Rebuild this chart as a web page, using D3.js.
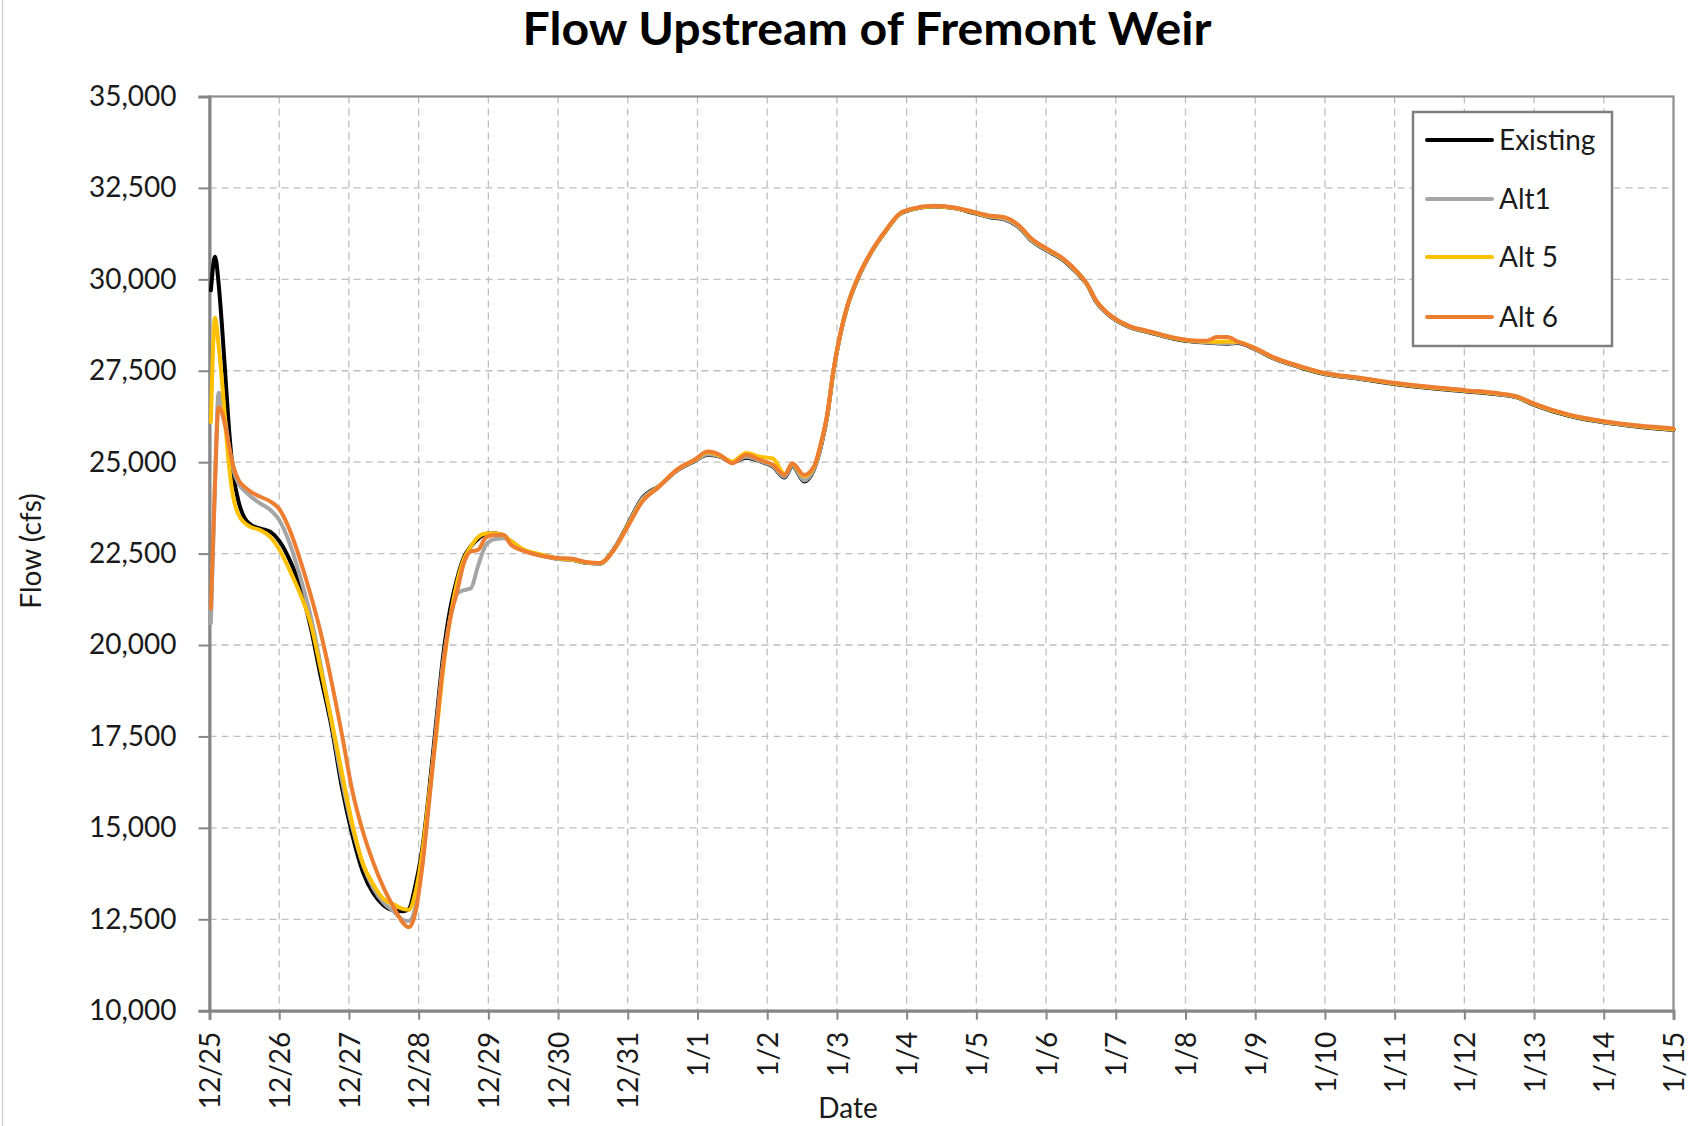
<!DOCTYPE html>
<html>
<head>
<meta charset="utf-8">
<script src="https://cdnjs.cloudflare.com/ajax/libs/d3/7.8.5/d3.min.js"></script>
<style>
    body { margin: 0; background: #fff; }
    svg { display: block; font-family: Lato, "Open Sans", sans-serif; }
</style>
</head>
<body>
<svg id="chart" width="1700" height="1126"></svg>
<script>
'use strict';

// days since 12/25 00:00
var days = [
    0.02, 0.08, 0.13, 0.18, 0.23, 0.28, 0.34, 0.42, 0.5, 0.6,
    0.72, 0.87, 1.0, 1.15, 1.3, 1.45, 1.6, 1.75, 1.9, 2.05,
    2.2, 2.35, 2.5, 2.65, 2.78, 2.86, 2.95, 3.05, 3.15, 3.25,
    3.35, 3.45, 3.55, 3.65, 3.75, 3.85, 3.97, 4.1, 4.22, 4.32,
    4.5, 4.75, 5.0, 5.2, 5.4, 5.6, 5.8, 6.0, 6.2, 6.45,
    6.7, 6.95, 7.15, 7.32, 7.5, 7.7, 7.9, 8.08, 8.25, 8.36,
    8.53, 8.67, 8.78, 8.86, 8.95, 9.05, 9.15, 9.3, 9.5, 9.7,
    9.9, 10.05, 10.4, 10.7, 10.95, 11.2, 11.4, 11.6, 11.8, 12.0,
    12.25, 12.45, 12.58, 12.72, 12.95, 13.2, 13.5, 13.8, 14.1, 14.3,
    14.45, 14.6, 14.75, 15.0, 15.25, 15.65, 16.0, 16.5, 17.0, 17.5,
    18.0, 18.5, 18.75, 19.0, 19.5, 20.0, 20.5, 21.0
];

var existing = [
    29700, 30620, 29900, 28700, 27300, 25900, 24700, 23900, 23480, 23280,
    23190, 23100, 22850, 22330, 21600, 20500, 19100, 17770, 16100, 14800,
    13800, 13210, 12880, 12740, 12720, 12780, 13400, 14400, 16000, 17860,
    19680, 20960, 21800, 22400, 22700, 22900, 23040, 23050, 23000, 22800,
    22600, 22460, 22360, 22330, 22250, 22230, 22620, 23300, 24000, 24350,
    24760, 25020, 25200, 25150, 25000, 25120, 25020, 24880, 24580, 24900,
    24470, 24800, 25500, 26250, 27480, 28500, 29260, 30020, 30760, 31320,
    31780, 31900, 31990, 31940, 31820, 31700, 31640, 31440, 31040, 30800,
    30520, 30160, 29880, 29380, 28950, 28690, 28540, 28390, 28300, 28270,
    28250, 28240, 28260, 28090, 27850, 27590, 27410, 27280, 27140, 27030,
    26940, 26850, 26770, 26570, 26270, 26090, 25970, 25880
];

var alt1 = [
    20600, 24500, 26900, 26550, 26100, 25400, 24800, 24400, 24220, 24050,
    23880, 23700, 23420, 22780, 21870, 20800, 19400, 17900, 16300, 15000,
    14000, 13350, 12950, 12700, 12480, 12450, 12800, 14000, 15800, 17700,
    19500, 20700, 21400, 21500, 21550, 22150, 22750, 22900, 22920, 22850,
    22600, 22450, 22350, 22330, 22250, 22230, 22610, 23280, 23980, 24340,
    24770, 25030, 25220, 25160, 25000, 25150, 25030, 24890, 24600, 24920,
    24500, 24820, 25520, 26260, 27490, 28510, 29270, 30030, 30770, 31330,
    31790, 31910, 32000, 31950, 31830, 31710, 31650, 31450, 31050, 30810,
    30530, 30170, 29890, 29390, 28960, 28700, 28550, 28400, 28310, 28280,
    28260, 28250, 28270, 28100, 27860, 27600, 27420, 27290, 27150, 27040,
    26950, 26860, 26780, 26580, 26280, 26100, 25980, 25890
];

var alt5 = [
    26100, 28950, 28200, 27200, 26000, 24900, 24050, 23550, 23350, 23220,
    23150, 22960, 22620, 22050, 21400, 20600, 19300, 17950, 16500, 15100,
    14030, 13450, 13050, 12900, 12780, 12760, 13200, 14300, 15900, 17500,
    19300, 20700, 21700, 22350, 22700, 22950, 23050, 23050, 23000, 22850,
    22620, 22480, 22370, 22340, 22260, 22240, 22600, 23260, 23920, 24340,
    24780, 25050, 25270, 25180, 25020, 25250, 25150, 25100, 24680, 24950,
    24620, 24860, 25580, 26280, 27500, 28520, 29270, 30040, 30770, 31330,
    31790, 31910, 32000, 31950, 31840, 31730, 31690, 31480, 31090, 30840,
    30550, 30190, 29890, 29410, 28970, 28710, 28560, 28410, 28320, 28300,
    28290, 28300, 28290, 28110, 27870, 27610, 27430, 27300, 27160, 27050,
    26960, 26870, 26790, 26590, 26290, 26110, 25990, 25900
];

var alt6 = [
    21000, 24500, 26500, 26350, 25950, 25450, 24900, 24500, 24330, 24180,
    24060, 23930, 23720, 23150, 22330, 21380, 20300, 19000, 17550, 16000,
    14900, 14050, 13350, 12800, 12390, 12280, 12650, 13900, 15700, 17600,
    19400, 20700, 21450, 22250, 22560, 22600, 22950, 23010, 23010, 22750,
    22580, 22440, 22380, 22360, 22270, 22240, 22600, 23240, 23900, 24330,
    24790, 25060, 25290, 25200, 24970, 25200, 25060, 24930, 24650, 24970,
    24650, 24880, 25600, 26300, 27520, 28530, 29280, 30050, 30780, 31340,
    31800, 31920, 32010, 31960, 31850, 31740, 31700, 31490, 31100, 30850,
    30560, 30200, 29900, 29420, 28980, 28720, 28570, 28420, 28330, 28320,
    28420, 28420, 28300, 28120, 27880, 27620, 27440, 27310, 27170, 27060,
    26970, 26880, 26800, 26600, 26300, 26120, 26000, 25920
];

var dateLabels = [
    '12/25', '12/26', '12/27', '12/28', '12/29', '12/30', '12/31',
    '1/1', '1/2', '1/3', '1/4', '1/5', '1/6', '1/7', '1/8', '1/9',
    '1/10', '1/11', '1/12', '1/13', '1/14', '1/15'
];

var yTicks = [10000, 12500, 15000, 17500, 20000, 22500, 25000, 27500, 30000, 32500, 35000];

var seriesNames = ['Existing', 'Alt1', 'Alt 5', 'Alt 6'];
var seriesColors = ['#000000', '#a5a5a5', '#ffc000', '#ed7d31'];
var seriesValues = [existing, alt1, alt5, alt6];

var plot = { left: 209.5, right: 1673.5, top: 96.5, bottom: 1010.7 };

var svg = d3.select('#chart');

svg.append('rect')
    .attr('width', 1700)
    .attr('height', 1126)
    .style('fill', '#fff');

// outer frame edge seen on the left side of the picture
svg.append('line')
    .attr('x1', 2.5).attr('x2', 2.5)
    .attr('y1', 0).attr('y2', 1126)
    .style('stroke', '#d4d4d4')
    .style('stroke-width', 1.5);

var x = d3.scaleLinear()
    .domain([0, dateLabels.length - 1])
    .range([plot.left, plot.right]);

var y = d3.scaleLinear()
    .domain([yTicks[0], yTicks[yTicks.length - 1]])
    .range([plot.bottom, plot.top]);

var dayTicks = d3.range(dateLabels.length);

// grid
var grid = svg.append('g').classed('grid', true);

grid.selectAll('line.v')
    .data(dayTicks.slice(1, -1))
    .enter().append('line')
    .attr('x1', function (d) { return x(d); })
    .attr('x2', function (d) { return x(d); })
    .attr('y1', plot.top)
    .attr('y2', plot.bottom);

grid.selectAll('line.h')
    .data(yTicks.slice(1, -1))
    .enter().append('line')
    .attr('x1', plot.left)
    .attr('x2', plot.right)
    .attr('y1', function (d) { return y(d); })
    .attr('y2', function (d) { return y(d); });

grid.selectAll('line')
    .style('stroke', '#bfbfbf')
    .style('stroke-width', 1.3)
    .style('stroke-dasharray', '7,5');

// plot border (top and right)
svg.append('rect')
    .attr('x', plot.left)
    .attr('y', plot.top)
    .attr('width', plot.right - plot.left)
    .attr('height', plot.bottom - plot.top)
    .style('fill', 'none')
    .style('stroke', '#8c8c8c')
    .style('stroke-width', 2.2);

// axes
var yAxis = svg.append('g')
    .attr('transform', 'translate(' + plot.left + ',0)')
    .call(d3.axisLeft(y)
        .tickValues(yTicks)
        .tickFormat(d3.format(','))
        .tickSize(11)
        .tickPadding(22));

var xAxis = svg.append('g')
    .attr('transform', 'translate(0,' + plot.bottom + ')')
    .call(d3.axisBottom(x)
        .tickValues(dayTicks)
        .tickFormat(function (d) { return dateLabels[d]; })
        .tickSize(9));

xAxis.selectAll('text')
    .attr('transform', 'rotate(-90)')
    .attr('x', -21)
    .attr('y', 0)
    .attr('dy', '0.36em')
    .style('text-anchor', 'end');

[xAxis, yAxis].forEach(function (axis) {
    axis.select('.domain')
        .style('stroke', '#868686')
        .style('stroke-width', 3);
    axis.selectAll('.tick line')
        .style('stroke', '#868686')
        .style('stroke-width', 2);
    axis.selectAll('text')
        .style('font-family', 'Lato, "Open Sans", sans-serif')
        .style('font-size', '28px')
        .style('fill', '#1a1a1a');
});

// series
var line = d3.line()
    .x(function (d) { return x(d[0]); })
    .y(function (d) { return y(d[1]); })
    .curve(d3.curveMonotoneX);

svg.append('g').classed('series', true)
    .selectAll('path')
    .data(seriesValues)
    .enter().append('path')
    .attr('d', function (vals) {
        return line(days.map(function (t, i) { return [t, vals[i]]; }));
    })
    .style('fill', 'none')
    .style('stroke', function (d, i) { return seriesColors[i]; })
    .style('stroke-width', 4)
    .style('stroke-linejoin', 'round')
    .style('stroke-linecap', 'round');

// titles
svg.append('text')
    .attr('x', 867)
    .attr('y', 45)
    .attr('textLength', 689)
    .attr('lengthAdjust', 'spacingAndGlyphs')
    .style('text-anchor', 'middle')
    .style('font-size', '46px')
    .style('font-weight', 'bold')
    .style('fill', '#000')
    .text('Flow Upstream of Fremont Weir');

svg.append('text')
    .attr('x', 848)
    .attr('y', 1118)
    .style('text-anchor', 'middle')
    .style('font-size', '28px')
    .style('fill', '#1a1a1a')
    .text('Date');

svg.append('text')
    .attr('transform', 'translate(41,551) rotate(-90)')
    .style('text-anchor', 'middle')
    .style('font-size', '28px')
    .style('fill', '#1a1a1a')
    .text('Flow (cfs)');

// legend
var legend = svg.append('g')
    .attr('transform', 'translate(1413,112)');

legend.append('rect')
    .attr('width', 199)
    .attr('height', 234)
    .style('fill', '#fff')
    .style('stroke', '#7f7f7f')
    .style('stroke-width', 2.5);

var rowY = [28, 87, 145, 205];

var item = legend.selectAll('g.item')
    .data(seriesNames)
    .enter().append('g')
    .classed('item', true)
    .attr('transform', function (d, i) { return 'translate(0,' + rowY[i] + ')'; });

item.append('line')
    .attr('x1', 14)
    .attr('x2', 79)
    .style('stroke', function (d, i) { return seriesColors[i]; })
    .style('stroke-width', 4)
    .style('stroke-linecap', 'round');

item.append('text')
    .attr('x', 86)
    .attr('dy', '0.36em')
    .style('font-size', '28px')
    .style('fill', '#1a1a1a')
    .text(function (d) { return d; });
</script>
</body>
</html>
